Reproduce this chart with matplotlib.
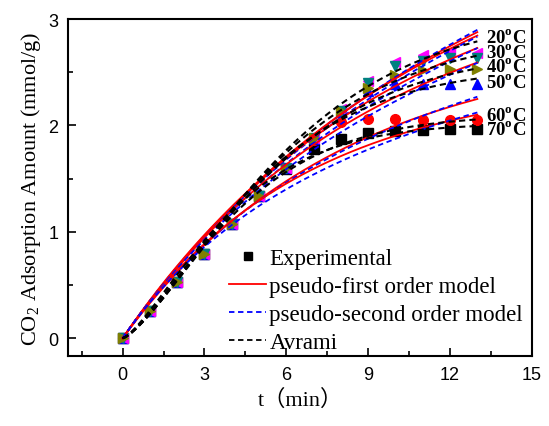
import numpy as np
import matplotlib
matplotlib.use("Agg")
import matplotlib.pyplot as plt
from matplotlib.lines import Line2D
from matplotlib.ticker import MultipleLocator

plt.rcParams['mathtext.fontset'] = 'custom'
plt.rcParams['mathtext.rm'] = 'Liberation Serif'
plt.rcParams['mathtext.bf'] = 'Liberation Serif:bold'

# ---- data ----
t_exp = [0, 1, 2, 3, 4, 5, 6, 7, 8, 9, 10, 11, 12, 13]
temps = ["20", "30", "40", "50", "60", "70"]
q_20 = [0, 0.26, 0.53, 0.79, 1.07, 1.34, 1.60, 1.88, 2.15, 2.42, 2.60, 2.66, 2.69, 2.68]
q_30 = [0, 0.26, 0.53, 0.79, 1.07, 1.34, 1.60, 1.88, 2.14, 2.40, 2.56, 2.61, 2.63, 2.63]
q_40 = [0, 0.26, 0.53, 0.79, 1.07, 1.34, 1.60, 1.88, 2.14, 2.35, 2.47, 2.52, 2.53, 2.53]
q_50 = [0, 0.26, 0.53, 0.79, 1.07, 1.34, 1.60, 1.87, 2.13, 2.32, 2.39, 2.39, 2.39, 2.39]
q_60 = [0, 0.26, 0.53, 0.79, 1.07, 1.34, 1.60, 1.86, 2.03, 2.06, 2.06, 2.05, 2.05, 2.05]
q_70 = [0, 0.26, 0.53, 0.79, 1.07, 1.34, 1.59, 1.78, 1.87, 1.93, 1.95, 1.96, 1.97, 1.97]

# fitted model parameters (per temperature 20..70 C)
pfo_qe = [4.45, 4.20, 3.75, 3.45, 2.80, 2.45]
pfo_k = [0.080, 0.087, 0.100, 0.107, 0.125, 0.150]
pso_qe = [7.3, 6.9, 6.3, 5.6, 4.3, 3.8]
pso_k = [0.00694, 0.00777, 0.00932, 0.0118, 0.0200, 0.0256]
avr_qe = [3.05, 2.85, 2.70, 2.55, 2.10, 2.02]
avr_k = [0.150, 0.160, 0.165, 0.180, 0.210, 0.230]
avr_n = [1.35, 1.35, 1.35, 1.35, 1.35, 1.35]

label_y = [2.835, 2.695, 2.56, 2.41, 2.10, 1.965]

q_all = {"20": q_20, "30": q_30, "40": q_40, "50": q_50, "60": q_60, "70": q_70}
styles = {"20": ("<", "#FF00FF"), "30": ("v", "#008080"), "40": (">", "#808000"),
          "50": ("^", "#0000FF"), "60": ("o", "#FF0000"), "70": ("s", "#000000")}

fig = plt.figure(figsize=(5.49, 4.27), dpi=100)
ax = fig.add_axes([0.1239, 0.164, 0.845, 0.789])

draw_order = ["70", "60", "50", "20", "30", "40"]
for T in draw_order:
    m, c = styles[T]
    ax.plot(t_exp, q_all[T], linestyle='none', marker=m, color=c, ms=7, zorder=2)

tt = np.linspace(0, 13, 200)
for i, T in enumerate(temps):
    q1 = pfo_qe[i] * (1 - np.exp(-pfo_k[i] * tt))
    q2 = pso_qe[i] ** 2 * pso_k[i] * tt / (1 + pso_qe[i] * pso_k[i] * tt)
    q3 = avr_qe[i] * (1 - np.exp(-(avr_k[i] * tt) ** avr_n[i]))
    ax.plot(tt, q1, color='#FF0000', lw=1.3, zorder=3)
    ax.plot(tt, q2, color='#0000FF', lw=1.3, ls=(0, (3, 2)), zorder=3)
    ax.plot(tt, q3, color='#000000', lw=1.5, ls=(0, (3, 2)), zorder=4)

for i, T in enumerate(temps):
    ax.text(13.3, label_y[i], T + r"$^{\mathbf{o}}$C", fontsize=13.5, fontweight='bold',
            family='Liberation Serif', va='center', ha='left')

ax.set_xlim(-2, 15)
ax.set_ylim(-0.167, 3)
ax.xaxis.set_major_locator(MultipleLocator(3))
ax.xaxis.set_minor_locator(MultipleLocator(1.5))
ax.yaxis.set_major_locator(MultipleLocator(1))
ax.yaxis.set_minor_locator(MultipleLocator(0.5))
ax.tick_params(which='both', direction='in', top=False, right=False, width=1.2)
ax.tick_params(which='major', length=6, labelsize=13, pad=7)
ax.tick_params(which='minor', length=3.5)
for lab in ax.get_xticklabels() + ax.get_yticklabels():
    lab.set_family('Liberation Sans')
for s in ax.spines.values():
    s.set_linewidth(1.5)

ax.set_xlabel("t（min）", fontsize=16, family=['Liberation Serif', 'Noto Sans CJK SC'], labelpad=4)
ax.set_ylabel("CO$_2$ Adsorption Amount (mmol/g)", fontsize=16, family='Liberation Serif', labelpad=4)

handles = [
    Line2D([], [], ls='none', marker='s', color='black', ms=6),
    Line2D([], [], color='#FF0000', lw=1.3),
    Line2D([], [], color='#0000FF', lw=1.3, ls=(0, (3, 2))),
    Line2D([], [], color='#000000', lw=1.3, ls=(0, (3, 2))),
]
labels = ["Experimental", "pseudo-first order model", "pseudo-second order model", "Avrami"]
leg = ax.legend(handles, labels, loc='upper left', bbox_to_anchor=(0.318, 0.36),
                frameon=False, prop={'family': 'Liberation Serif', 'size': 16.5},
                handlelength=1.6, handletextpad=0.15, labelspacing=0.3, borderpad=0.1)

fig.savefig("out.png", dpi=100)
